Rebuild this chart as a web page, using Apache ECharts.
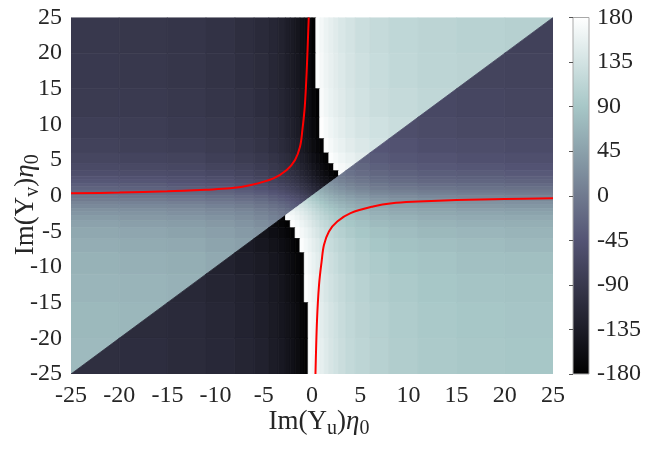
<!DOCTYPE html>
<html><head><meta charset="utf-8">
<script src="https://cdn.jsdelivr.net/npm/echarts@6/dist/echarts.min.js"></script>
<style>html,body{margin:0;padding:0;background:#fff}#c{width:658px;height:449px}</style>
</head><body><div id="c"></div>
<script>
// Cell edges (same for both axes so the y = x jump runs through cell corners)
const X_EDGES = [-25,-20,-15,-11,-8,-6,-4.5,-3.5,-2.75,-2.25,-1.75,-1.25,-0.8,-0.4,0,0.4,0.8,1.25,1.75,2.25,2.75,3.5,4.5,6,8,11,15,20,25];
const Y_EDGES = [-25,-20,-15,-11,-8,-6,-4.5,-3.5,-2.75,-2.25,-1.75,-1.25,-0.8,-0.4,0,0.4,0.8,1.25,1.75,2.25,2.75,3.5,4.5,6,8,11,15,20,25];

// Phase (deg), rows from top (y = 22.5) to bottom (y = -22.5).
// On the diagonal the value is the part above the y = x line.
const PHASE_ROWS = [
  [-90,-92,-95,-100,-106,-112,-119,-126,-133,-139,-146,-154,-161,-169,-176,176,169,161,154,148,141,135,127,121,115,111,107,105],
  [-88,-90,-93,-98,-104,-110,-117,-124,-131,-137,-144,-151,-159,-167,-174,178,171,163,156,150,144,137,130,123,117,113,110,-73],
  [-85,-87,-90,-95,-100,-107,-114,-121,-127,-133,-140,-148,-156,-163,-171,-178,174,166,159,153,147,140,133,126,121,116,-67,-69],
  [-80,-82,-86,-90,-96,-102,-109,-116,-123,-129,-136,-144,-151,-159,-166,-174,179,171,164,158,151,144,137,131,125,-60,-63,-65],
  [-74,-77,-80,-84,-90,-97,-104,-111,-117,-123,-130,-138,-146,-153,-161,-168,-176,177,170,163,157,150,143,136,-49,-54,-57,-59],
  [-68,-70,-73,-78,-84,-90,-97,-104,-110,-117,-124,-131,-139,-146,-154,-162,-169,-177,176,170,164,157,150,-37,-43,-47,-51,-53],
  [-61,-63,-66,-71,-76,-83,-90,-97,-103,-110,-117,-124,-132,-139,-147,-154,-162,-170,-177,177,171,164,-23,-30,-36,-40,-43,-46],
  [-54,-56,-59,-64,-69,-76,-83,-90,-96,-103,-110,-117,-125,-132,-140,-148,-155,-163,-170,-176,178,-9,-16,-23,-29,-33,-36,-39],
  [-47,-50,-53,-57,-63,-70,-77,-84,-90,-96,-103,-111,-119,-126,-134,-141,-149,-156,-164,-170,4,-3,-10,-17,-22,-27,-30,-32],
  [-41,-43,-47,-51,-57,-63,-71,-78,-84,-90,-97,-105,-112,-120,-128,-135,-143,-150,-157,17,10,3,-4,-11,-16,-21,-24,-26],
  [-34,-36,-40,-44,-50,-56,-63,-70,-77,-83,-90,-98,-105,-113,-120,-128,-135,-143,30,24,17,10,3,-3,-9,-14,-17,-19],
  [-27,-29,-32,-36,-42,-49,-56,-63,-69,-75,-82,-90,-98,-105,-113,-120,-128,45,37,31,25,18,11,4,-1,-6,-9,-11],
  [-19,-21,-24,-29,-35,-41,-48,-55,-62,-68,-75,-82,-90,-98,-105,-113,60,52,45,39,33,26,18,12,6,2,-2,-4],
  [-11,-14,-17,-21,-27,-34,-41,-48,-54,-60,-67,-75,-83,-90,-98,75,67,60,53,46,40,33,26,19,14,9,6,4],
  [-4,-6,-9,-14,-19,-26,-33,-40,-46,-53,-60,-67,-75,-82,90,83,75,67,60,54,48,41,34,27,21,17,14,11],
  [4,2,-2,-6,-12,-18,-26,-33,-39,-45,-52,-60,-67,105,98,90,82,75,68,62,55,48,41,35,29,24,21,19],
  [11,9,6,1,-4,-11,-18,-25,-31,-37,-45,-52,120,113,105,98,90,82,75,69,63,56,49,42,36,32,29,27],
  [19,17,14,9,3,-3,-10,-17,-24,-30,-37,135,128,120,113,105,98,90,83,77,70,63,56,50,44,40,36,34],
  [26,24,21,16,11,4,-3,-10,-17,-23,150,143,135,128,120,112,105,97,90,84,78,71,63,57,51,47,43,41],
  [32,30,27,22,17,10,3,-4,-10,164,156,149,141,134,126,119,111,103,96,90,84,77,70,63,57,53,50,47],
  [39,36,33,29,23,16,9,2,176,170,163,155,148,140,132,125,117,110,103,96,90,83,76,69,64,59,56,54],
  [46,43,40,36,30,23,16,-171,-177,177,170,162,154,147,139,132,124,117,110,103,97,90,83,76,71,66,63,61],
  [53,51,47,43,37,31,-157,-164,-170,-176,177,169,162,154,146,139,131,124,117,110,104,97,90,84,78,73,70,68],
  [59,57,54,49,44,-143,-150,-157,-163,-170,-177,176,168,161,153,146,138,130,123,117,111,104,97,90,84,80,77,74],
  [65,63,60,55,-131,-137,-144,-151,-158,-164,-171,-179,174,166,159,151,144,136,129,123,116,109,102,96,90,86,82,80],
  [69,67,64,-121,-126,-133,-140,-147,-153,-159,-166,-174,178,171,163,156,148,140,133,127,121,114,107,100,95,90,87,85],
  [73,71,-113,-117,-123,-130,-137,-144,-150,-156,-163,-171,-178,174,167,159,151,144,137,131,124,117,110,104,98,93,90,88],
  [75,-107,-111,-115,-121,-127,-135,-141,-148,-154,-161,-169,-176,176,169,161,154,146,139,133,126,119,112,106,100,95,92,90]
];
// Phase below the y = x line in each diagonal cell (same top-to-bottom order)
const DIAG_LOWER = [-75,-71,-64,-55,-44,-31,-16,-2,10,23,37,52,67,82,98,113,128,143,157,170,-178,-164,-150,-136,-125,-116,-110,-105];

// Red curves
const RED_UPPER_X = [-25,-20,-15,-11,-8.5,-6.33,-4.0,-2.62,-1.76,-1.24,-1.0,-0.75,-0.55,-0.34];
const RED_UPPER_Y = [0.34,0.45,0.62,0.85,1.04,1.51,2.44,3.61,5.0,6.9,9.2,12.5,17.5,25];
const RED_LOWER_X = [0.36,0.52,0.73,1.0,1.24,1.76,2.62,4.0,6.33,8.3,11,15,20,25];
const RED_LOWER_Y = [-25,-17.5,-12.5,-9.2,-6.9,-5.0,-3.61,-2.44,-1.51,-1.05,-0.82,-0.6,-0.45,-0.36];

const X_TICKS = {min:-25, max:25, step:5};
const C_TICKS = {min:-180, max:180, step:45};

// MATLAB "bone" colour map, 9 even stops
const BONE = ['#000000','#1c1c27','#38384d','#545474','#707a8f','#8ba1ab','#a7c7c7','#d3e3e3','#ffffff'];

const F = "'Liberation Serif','Times New Roman',serif";
const TXT = '#262626';

const n = X_EDGES.length - 1;
const cells = [];
PHASE_ROWS.forEach((row, r) => {
  const j = n - 1 - r;
  row.forEach((v, i) => {
    const x0 = X_EDGES[i], x1 = X_EDGES[i+1], y0 = Y_EDGES[j], y1 = Y_EDGES[j+1];
    if (i === j) {
      cells.push([x0, x1, y0, y1, v, 1]);
      cells.push([x0, x1, y0, y1, DIAG_LOWER[r], 2]);
    } else {
      cells.push([x0, x1, y0, y1, v, 0]);
    }
  });
});
const zip = (a, b) => a.map((v, k) => [v, b[k]]);

const nameRich = {
  a: {fontFamily: F, fontSize: 27, lineHeight: 31, verticalAlign: 'top', color: TXT},
  e: {fontFamily: F, fontSize: 27, lineHeight: 31, verticalAlign: 'top', fontStyle: 'italic', color: TXT},
  s: {fontFamily: F, fontSize: 20, lineHeight: 20, verticalAlign: 'bottom', padding: [17, 0, 0, 0], color: TXT}
};
const tickLabel = {fontFamily: F, fontSize: 24, color: TXT};

const chart = echarts.init(document.getElementById('c'), null, {renderer: 'canvas'});
chart.setOption({
  animation: false,
  backgroundColor: '#ffffff',
  grid: [
    {left: 71, top: 17.5, width: 482, height: 356.5, containLabel: false, outerBoundsMode: 'none'},
    {left: 573, top: 17.5, width: 16, height: 356.5, containLabel: false, outerBoundsMode: 'none'}
  ],
  xAxis: [
    {type: 'value', gridIndex: 0, min: X_TICKS.min, max: X_TICKS.max, interval: X_TICKS.step,
     axisLine: {show: false}, axisTick: {show: false}, splitLine: {show: false},
     axisLabel: Object.assign({margin: 10, showMinLabel: true, showMaxLabel: true}, tickLabel),
     name: '{a|Im(Y}{s|u}{a|)}{e|η}{s|0}', nameLocation: 'middle', nameGap: 34, nameMoveOverlap: false,
     nameTextStyle: {fontFamily: F, fontSize: 27, color: TXT, padding: [0, 0, 0, 14], rich: nameRich}},
    {type: 'value', gridIndex: 1, min: 0, max: 1, show: false}
  ],
  yAxis: [
    {type: 'value', gridIndex: 0, min: X_TICKS.min, max: X_TICKS.max, interval: X_TICKS.step,
     axisLine: {show: false}, axisTick: {show: false}, splitLine: {show: false},
     axisLabel: Object.assign({margin: 9, showMinLabel: true, showMaxLabel: true}, tickLabel),
     name: '{a|Im(Y}{s|v}{a|)}{e|η}{s|0}', nameLocation: 'middle', nameGap: 28, nameRotate: 90, nameMoveOverlap: false,
     nameTextStyle: {fontFamily: F, fontSize: 27, color: TXT, padding: [0, 18, 0, 0], rich: nameRich}},
    {type: 'value', gridIndex: 1, min: C_TICKS.min, max: C_TICKS.max, interval: C_TICKS.step,
     position: 'right', z: 10,
     axisLine: {show: false}, splitLine: {show: false},
     axisTick: {show: true, inside: true, length: 4, lineStyle: {color: '#555', width: 1}},
     axisLabel: Object.assign({margin: 8, showMinLabel: true, showMaxLabel: true}, tickLabel)}
  ],
  visualMap: {
    type: 'continuous', show: false, min: C_TICKS.min, max: C_TICKS.max,
    dimension: 4, seriesIndex: 0, inRange: {color: BONE}
  },
  series: [
    {
      type: 'custom', xAxisIndex: 0, yAxisIndex: 0, clip: true, z: 1,
      dimensions: ['x0','x1','y0','y1','phase','part'],
      encode: {x: [0, 1], y: [2, 3]},
      data: cells,
      renderItem: function (params, api) {
        const x0 = api.value(0), x1 = api.value(1), y0 = api.value(2), y1 = api.value(3), part = api.value(5);
        const p00 = api.coord([x0, y0]), p10 = api.coord([x1, y0]), p11 = api.coord([x1, y1]), p01 = api.coord([x0, y1]);
        const col = api.visual('color');
        let pts;
        if (part === 1) pts = [p00, p01, p11];
        else if (part === 2) pts = [p00, p10, p11];
        else pts = [p00, p10, p11, p01];
        return {type: 'polygon', shape: {points: pts}, style: {fill: col, stroke: col, lineWidth: 0.8}};
      }
    },
    {
      type: 'line', xAxisIndex: 0, yAxisIndex: 0, data: zip(RED_UPPER_X, RED_UPPER_Y),
      smooth: 0.35, showSymbol: false, clip: true, z: 5,
      lineStyle: {color: '#ff0000', width: 2}
    },
    {
      type: 'line', xAxisIndex: 0, yAxisIndex: 0, data: zip(RED_LOWER_X, RED_LOWER_Y),
      smooth: 0.35, showSymbol: false, clip: true, z: 5,
      lineStyle: {color: '#ff0000', width: 2}
    },
    {
      type: 'custom', xAxisIndex: 1, yAxisIndex: 1, z: 2,
      data: [[0, 1, C_TICKS.min, C_TICKS.max]],
      encode: {x: [0, 1], y: [2, 3]},
      renderItem: function (params, api) {
        const a = api.coord([api.value(0), api.value(2)]);
        const b = api.coord([api.value(1), api.value(3)]);
        const stops = BONE.map((c, k) => ({offset: k / (BONE.length - 1), color: c}));
        return {type: 'rect',
          shape: {x: a[0], y: b[1], width: b[0] - a[0], height: a[1] - b[1]},
          style: {fill: new echarts.graphic.LinearGradient(0, 1, 0, 0, stops), stroke: '#a8a8a8', lineWidth: 1}};
      }
    }
  ]
});
</script></body></html>
